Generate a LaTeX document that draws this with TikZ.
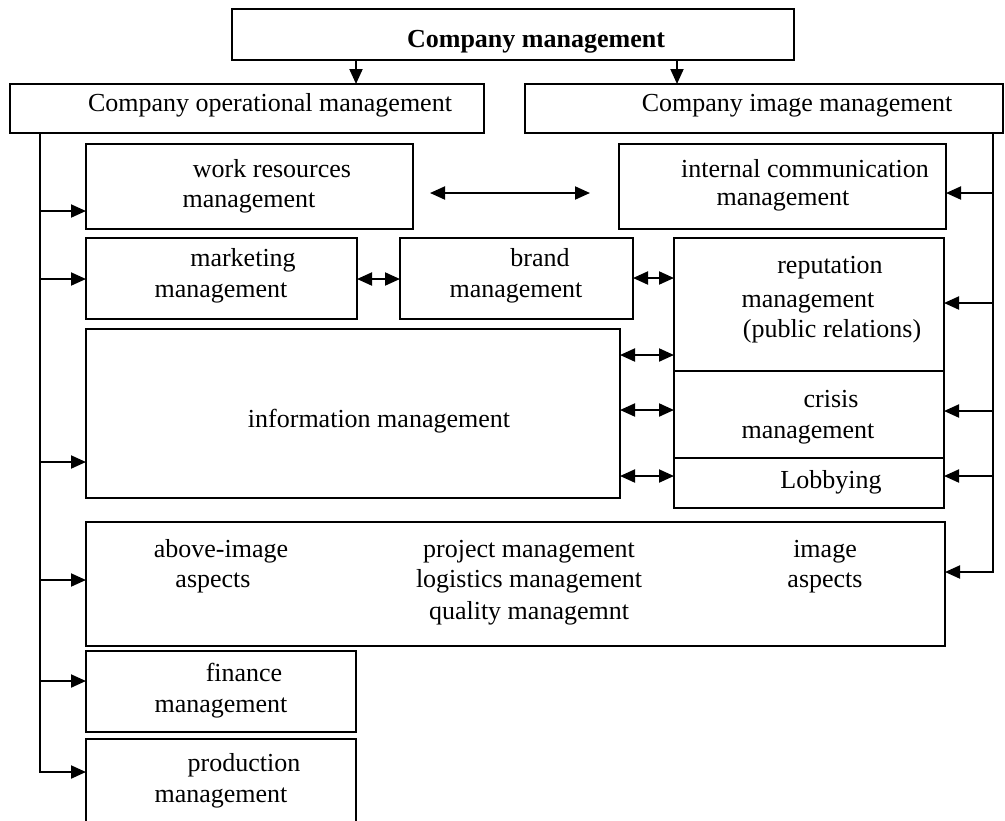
\documentclass[tikz,border=0pt]{standalone}
\usepackage{fontspec}
\setmainfont{Liberation Serif}
\usetikzlibrary{arrows.meta}
\tikzset{
  box/.style={draw, line width=1pt, inner sep=0pt, outer sep=0pt},
  txt/.style={inner sep=0pt, outer sep=0pt, anchor=base, font=\fontsize{13}{15}\selectfont},
  btxt/.style={txt, font=\fontsize{13}{15}\selectfont\bfseries},
  conn/.style={line width=1pt},
  arr/.style={conn, -{Triangle[length=7.5pt,width=6.5pt]}},
  darr/.style={conn, {Triangle[length=7.5pt,width=6.5pt]}-{Triangle[length=7.5pt,width=6.5pt]}}
}
\newcommand\mybox[5]{\node[box, minimum width={(#4-#2)*0.5pt}, minimum height={(#5-#3)*0.5pt}] (#1) at ({(#2+#4)/2},{(#3+#5)/2}) {};}
\begin{document}
\begin{tikzpicture}[x=0.5pt,y=-0.5pt]
\useasboundingbox (0,0) rectangle (1005,820);
% boxes
\mybox{top}{232}{9}{794}{60}
\mybox{op}{10}{84}{484}{133}
\mybox{img}{525}{84}{1003}{133}
\mybox{wr}{86}{144}{413}{229}
\mybox{ic}{619}{144}{946}{229}
\mybox{mk}{86}{238}{357}{319}
\mybox{br}{400}{238}{633}{319}
\mybox{rep}{674}{238}{944}{371}
\mybox{info}{86}{329}{620}{498}
\mybox{cri}{674}{371}{944}{458}
\mybox{lob}{674}{458}{944}{508}
\mybox{big}{86}{522}{945}{646}
\mybox{fin}{86}{651}{356}{732}
\mybox{prod}{86}{739}{356}{835}
% texts
\node[btxt] (t0) at (536,47) {Company management};
\node[txt] (t1) at (270,111) {Company operational management};
\node[txt] (t2) at (797,111) {Company image management};
\node[txt] (t3) at (272,177) {work resources};
\node[txt] (t4) at (249,207) {management};
\node[txt] (t5) at (805,177) {internal communication};
\node[txt] (t6) at (783,205) {management};
\node[txt] (t7) at (243,266) {marketing};
\node[txt] (t8) at (221,297) {management};
\node[txt] (t9) at (540,266) {brand};
\node[txt] (t10) at (516,297) {management};
\node[txt] (t11) at (830,273) {reputation};
\node[txt] (t12) at (808,307) {management};
\node[txt] (t13) at (832,337) {(public relations)};
\node[txt] (t14) at (379,427) {information management};
\node[txt] (t15) at (831,407) {crisis};
\node[txt] (t16) at (808,438) {management};
\node[txt] (t17) at (831,488) {Lobbying};
\node[txt] (t18) at (221,557) {above-image};
\node[txt] (t19) at (213,587) {aspects};
\node[txt] (t20) at (529,557) {project management};
\node[txt] (t21) at (529,587) {logistics management};
\node[txt] (t22) at (529,619) {quality managemnt};
\node[txt] (t23) at (825,557) {image};
\node[txt] (t24) at (825,587) {aspects};
\node[txt] (t25) at (244,681) {finance};
\node[txt] (t26) at (221,712) {management};
\node[txt] (t27) at (244,771) {production};
\node[txt] (t28) at (221,802) {management};
% helper coordinates
\coordinate (c1) at (356,0);
\coordinate (c2) at (677,0);
\coordinate (lt) at (40,0);
\coordinate (rt) at (993,0);
\coordinate (r193) at (0,193);
\coordinate (r211) at (0,211);
\coordinate (r278) at (0,278);
\coordinate (r279) at (0,279);
\coordinate (r303) at (0,303);
\coordinate (r355) at (0,355);
\coordinate (r410) at (0,410);
\coordinate (r411) at (0,411);
\coordinate (r462) at (0,462);
\coordinate (r476) at (0,476);
\coordinate (r572) at (0,572);
\coordinate (r580) at (0,580);
\coordinate (r681) at (0,681);
\coordinate (r772) at (0,772);
\coordinate (da) at (430,193);
\coordinate (db) at (590,193);
% top arrows
\draw[arr] (top.south -| c1) -- (op.north -| c1);
\draw[arr] (top.south -| c2) -- (img.north -| c2);
% left spine
\draw[arr] (op.south -| lt) |- (prod.west |- r772);
\draw[arr] (lt |- r211) -- (wr.west |- r211);
\draw[arr] (lt |- r279) -- (mk.west |- r279);
\draw[arr] (lt |- r462) -- (info.west |- r462);
\draw[arr] (lt |- r580) -- (big.west |- r580);
\draw[arr] (lt |- r681) -- (fin.west |- r681);
% right spine
\draw[arr] (img.south -| rt) |- (big.east |- r572);
\draw[arr] (rt |- r193) -- (ic.east |- r193);
\draw[arr] (rt |- r303) -- (rep.east |- r303);
\draw[arr] (rt |- r411) -- (cri.east |- r411);
\draw[arr] (rt |- r476) -- (lob.east |- r476);
% double arrows
\draw[darr] (da) -- (db);
\draw[darr] (mk.east |- r279) -- (br.west |- r279);
\draw[darr] (br.east |- r278) -- (rep.west |- r278);
\draw[darr] (info.east |- r355) -- (rep.west |- r355);
\draw[darr] (info.east |- r410) -- (cri.west |- r410);
\draw[darr] (info.east |- r476) -- (lob.west |- r476);
\end{tikzpicture}
\end{document}
